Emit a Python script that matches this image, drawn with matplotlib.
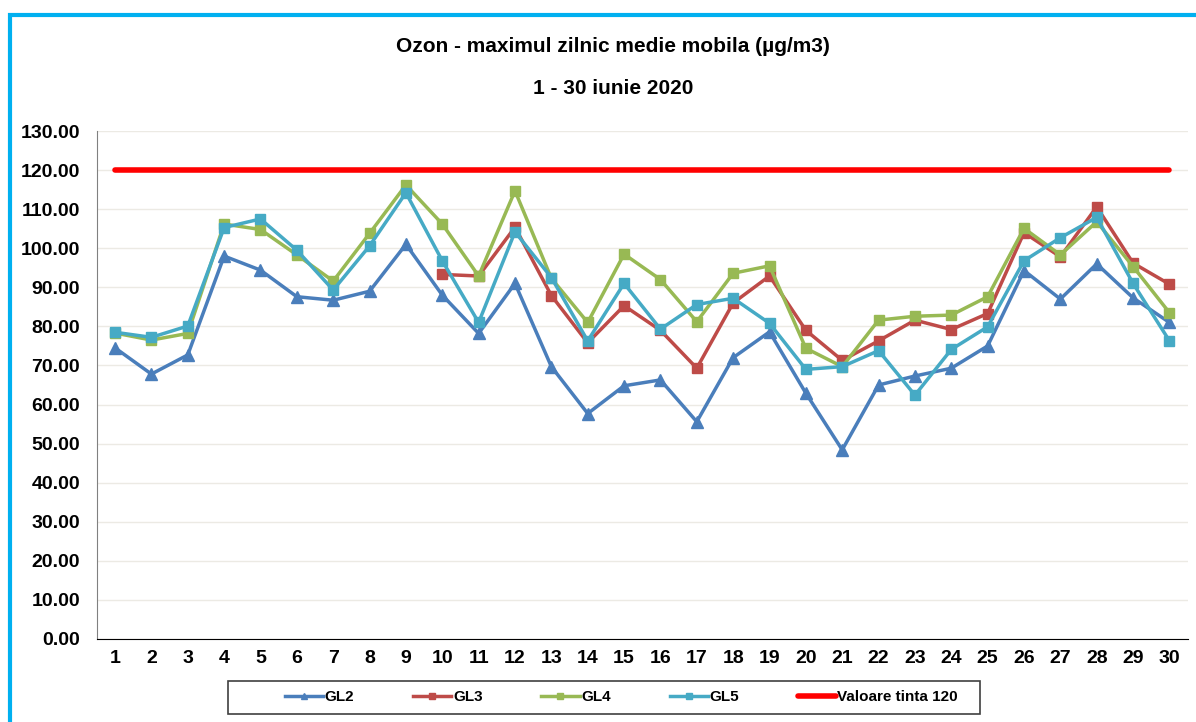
import numpy as np
import matplotlib
matplotlib.use("Agg")
import matplotlib.pyplot as plt
from matplotlib.patches import Rectangle
from matplotlib.ticker import FormatStrFormatter

# Data
days = list(range(1, 31))
gl2 = [74.5, 67.8, 72.7, 98.0, 94.4, 87.6, 86.7, 89.0, 101.0, 88.0,
       78.2, 91.0, 69.7, 57.7, 64.8, 66.3, 55.6, 72.0, 78.6, 62.9,
       48.4, 65.0, 67.3, 69.3, 75.0, 94.3, 87.0, 96.0, 87.3, 81.0]
gl3 = [np.nan] * 9 + [93.3,
       92.9, 105.4, 87.9, 75.8, 85.3, 79.0, 69.3, 86.0, 92.9, 79.0,
       71.3, 76.3, 81.6, 79.2, 83.3, 104.0, 97.8, 110.6, 96.2, 90.8]
gl4 = [78.3, 76.5, 78.2, 106.2, 104.8, 98.3, 91.6, 103.8, 116.2, 106.2,
       92.9, 114.7, 92.3, 81.0, 98.5, 92.0, 81.2, 93.6, 95.5, 74.4,
       69.7, 81.6, 82.6, 82.9, 87.6, 105.1, 98.3, 106.8, 95.3, 83.5]
gl5 = [78.5, 77.2, 80.1, 105.3, 107.5, 99.5, 89.3, 100.6, 114.2, 96.8,
       81.0, 104.2, 92.5, 76.3, 91.0, 79.3, 85.6, 87.2, 80.8, 69.0,
       69.7, 73.8, 62.4, 74.1, 79.9, 96.8, 102.7, 107.9, 91.0, 76.3]
target = [120] * 30

plt.rcParams['font.family'] = ['Liberation Sans', 'DejaVu Sans']

W, H = 1196, 722
fig = plt.figure(figsize=(W / 100, H / 100), dpi=100)
ax = fig.add_axes([0.081, 0.115, 0.912, 0.7035])

# cyan frame around the chart area
fig.patches.append(Rectangle((10 / W, -0.1), 1.2, 1 - 15 / H + 0.1,
                             transform=fig.transFigure, fill=False,
                             edgecolor='#00B0F0', linewidth=3, zorder=0))

ax.plot(days, gl2, color='#4A7EBB', lw=2.5, marker='^', ms=8, label='GL2')
ax.plot(days, gl3, color='#BE4B48', lw=2.5, marker='s', ms=7.5, label='GL3')
ax.plot(days, gl4, color='#98B954', lw=2.5, marker='s', ms=7.5, label='GL4')
ax.plot(days, gl5, color='#46AAC5', lw=2.5, marker='s', ms=7.5, label='GL5')
ax.plot(days, target, color='#FF0000', lw=4, solid_capstyle='round',
        label='Valoare tinta 120')

ax.set_xlim(0.5, 30.5)
ax.set_ylim(0, 130)
ax.set_xticks(days)
ax.set_yticks(np.arange(0, 131, 10))
ax.yaxis.set_major_formatter(FormatStrFormatter('%.2f'))
ax.tick_params(axis='both', length=0, labelsize=14)
ax.tick_params(axis='x', pad=8)
ax.tick_params(axis='y', pad=12)
for lbl in ax.get_xticklabels() + ax.get_yticklabels():
    lbl.set_fontweight('bold')
ax.grid(axis='y', color='#ECEAE4', lw=1)
ax.set_axisbelow(True)
for s in ['top', 'right']:
    ax.spines[s].set_visible(False)
ax.spines['left'].set_color('#808080')
ax.spines['bottom'].set_color('#000000')

fig.text(0.5125, 1 - 47 / H, 'Ozon - maximul zilnic medie mobila (µg/m3)',
         ha='center', va='center', fontsize=15, fontweight='bold')
fig.text(0.5125, 1 - 88 / H, '1 - 30 iunie 2020', ha='center', va='center',
         fontsize=15, fontweight='bold')

# legend box like the Excel one
fig.patches.append(Rectangle((228 / W, 1 - 714 / H), (980 - 228) / W, 33 / H,
                             transform=fig.transFigure, fill=False,
                             edgecolor='#404040', linewidth=1.2))
leg = fig.legend(loc='center left', bbox_to_anchor=(285 / W, 1 - 697 / H),
                 ncol=5, frameon=False, fontsize=11, handlelength=2.5,
                 handletextpad=0.1, columnspacing=3.85, markerscale=0.55,
                 borderpad=0, borderaxespad=0)
for t in leg.get_texts():
    t.set_fontweight('bold')

fig.savefig('out.png', dpi=100)
